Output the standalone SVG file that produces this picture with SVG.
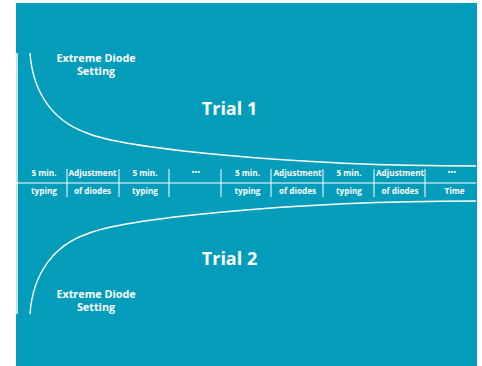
<svg xmlns="http://www.w3.org/2000/svg" width="482" height="366" viewBox="0 0 482 366">
<style>
.t{font-family:"Open Sans","Liberation Sans",Arial,sans-serif;font-weight:700;fill:#fff;text-anchor:middle}
.s{font-size:8.2px}
.m{font-size:10.8px}
.b{font-size:18px}
.d{font-size:6.5px;letter-spacing:0.4px}
.ln{stroke:#fff;fill:none}
</style>
<rect x="0" y="0" width="482" height="366" fill="#fff"/>
<rect x="16" y="3" width="461" height="363" fill="#049cbb"/>
<g id="connectors">
<line class="ln" x1="17" y1="53" x2="17" y2="314" stroke-width="1.5"/>
<path class="ln" stroke-width="1.4" d="M30,53 C33,95 55,122 87,133 C120,147 280,166 476,166"/>
<path class="ln" stroke-width="1.4" d="M30,314 C33,272 55,245 87,234 C120,220 280,201 476,201"/>
<line class="ln" x1="16" y1="183" x2="476" y2="183" stroke-width="1.2"/>
<g stroke-width="1">
<line class="ln" x1="67" y1="169" x2="67" y2="197"/>
<line class="ln" x1="119" y1="169" x2="119" y2="197"/>
<line class="ln" x1="169" y1="169" x2="169" y2="197"/>
<line class="ln" x1="221" y1="169" x2="221" y2="197"/>
<line class="ln" x1="271" y1="169" x2="271" y2="197"/>
<line class="ln" x1="323" y1="169" x2="323" y2="197"/>
<line class="ln" x1="374" y1="169" x2="374" y2="197"/>
<line class="ln" x1="425" y1="169" x2="425" y2="197"/>
</g>
</g>
<g id="label-top"><text class="t m" x="96" y="62">Extreme Diode</text><text class="t m" x="96" y="74.5">Setting</text></g>
<g id="label-bottom"><text class="t m" x="96" y="298">Extreme Diode</text><text class="t m" x="96" y="310.5">Setting</text></g>
<g id="trial1"><text class="t b" x="229.5" y="115">Trial 1</text></g>
<g id="trial2"><text class="t b" x="229.5" y="265">Trial 2</text></g>
<g id="c1"><text class="t s" x="44" y="176">5 min.</text><text class="t s" x="44" y="194">typing</text></g>
<g id="c2"><text class="t s" x="92.5" y="176">Adjustment</text><text class="t s" x="92.5" y="194">of diodes</text></g>
<g id="c3"><text class="t s" x="145" y="176">5 min.</text><text class="t s" x="145" y="194">typing</text></g>
<g id="c4"><text class="t d" x="196" y="175">•••</text></g>
<g id="c5"><text class="t s" x="247.5" y="176">5 min.</text><text class="t s" x="247.5" y="194">typing</text></g>
<g id="c6"><text class="t s" x="297.5" y="176">Adjustment</text><text class="t s" x="297.5" y="194">of diodes</text></g>
<g id="c7"><text class="t s" x="349" y="176">5 min.</text><text class="t s" x="349" y="194">typing</text></g>
<g id="c8"><text class="t s" x="400" y="176">Adjustment</text><text class="t s" x="400" y="194">of diodes</text></g>
<g id="c9"><text class="t d" x="452" y="175">•••</text><text class="t s" x="454.5" y="194">Time</text></g>
</svg>
